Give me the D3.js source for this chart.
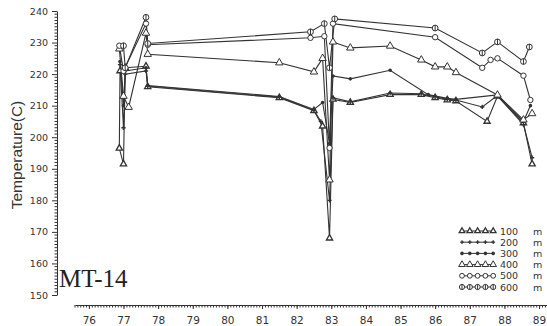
<!DOCTYPE html>
<html><head><meta charset="utf-8">
<script src="https://cdn.jsdelivr.net/npm/d3@7"></script>
<style>body{margin:0;background:#fff}svg{display:block}</style>
</head><body>
<script>
const seriesNames = ["100", "200", "300", "400", "500", "600"];
const yTicks = [150,160,170,180,190,200,210,220,230,240];
const xTicks = [76,77,78,79,80,81,82,83,84,85,86,87,88,89];

// [year, temperature C]
const s100 = [[76.9,221],[76.88,196.5],[77.0,191.5],[77.05,222],[77.65,222.5],[77.7,216],[81.5,212.5],[82.5,208.4],[82.75,203.5],[82.95,168],[83.05,212],[83.55,211],[84.7,213.5],[85.6,213.5],[86.0,212.5],[86.35,211.8],[86.6,211.5],[87.5,205],[87.8,213],[88.55,204.5],[88.8,191.5]];
const s200 = [[76.9,223],[77.0,203],[77.05,220],[77.65,221],[77.7,216.2],[81.5,212.7],[82.5,208.6],[82.7,205],[82.95,180],[83.05,212.5],[83.55,211.2],[84.7,214],[85.6,213.8],[86.0,212.8],[86.35,212],[86.6,211.8],[87.36,209.6],[87.8,213.2],[88.55,204],[88.8,193.5]];
const s300 = [[76.9,224],[77.0,210],[77.05,221],[77.65,222],[77.7,216.4],[81.5,212.9],[82.5,208.8],[82.75,211],[82.95,198],[83.05,219.4],[83.55,218.5],[84.7,221.2],[85.8,213.5],[86.35,212.3],[86.6,212],[87.8,213.4],[88.55,205],[88.75,210]];
const s400 = [[76.88,228],[77.0,213],[77.15,209.5],[77.65,233],[77.7,226.3],[81.5,223.6],[82.5,220.7],[82.75,225],[82.95,186.5],[83.05,230.2],[83.55,228.3],[84.7,228.9],[85.6,224.5],[86.0,222.3],[86.35,222.3],[86.6,220.5],[87.8,213.4],[88.55,205.5],[88.8,207.5]];
const s500 = [[76.88,229],[77.0,221],[77.65,236],[77.7,229.3],[82.4,231.5],[82.8,232],[82.95,196.6],[83.05,236],[86.0,231.7],[87.36,222],[87.6,224.5],[87.8,225],[88.55,219.5],[88.75,211.8]];
const s600 = [[77.0,229],[77.05,222],[77.65,238],[77.7,229.7],[82.4,233.4],[82.8,236],[82.95,222],[83.1,237.5],[86.0,234.6],[87.36,226.7],[87.8,230.2],[88.55,224],[88.72,228.6]];
const allSeries = [s100, s200, s300, s400, s500, s600];

const W = 547, H = 326, ink = "#333";
const svg = d3.select("body").append("svg").attr("width", W).attr("height", H);
const x = d3.scaleLinear().domain([75.6, 89.23]).range([75, 547]);
const y = d3.scaleLinear().domain([150, 240]).range([295, 11]);

// Y axis
const yAxis = d3.axisLeft(y).tickValues(yTicks).tickSize(5).tickSizeOuter(0).tickPadding(4);
const gy = svg.append("g").attr("transform", "translate(57,0)").call(yAxis);
gy.selectAll(".tick text").attr("font-family", "DejaVu Sans").attr("font-size", 9.5).attr("fill", ink);
gy.selectAll("line,path").attr("stroke", ink);
gy.append("g").selectAll("line").data(d3.range(150, 241, 1).filter(v => v % 10)).join("line")
  .attr("x1", -2.5).attr("x2", 0).attr("y1", d => y(d)).attr("y2", d => y(d)).attr("stroke", ink);

// X axis
const xAxis = d3.axisBottom(x).tickValues(xTicks).tickSize(4).tickSizeOuter(0).tickPadding(8);
const gx = svg.append("g").attr("transform", "translate(0,305)").call(xAxis);
gx.selectAll(".tick text").attr("font-family", "DejaVu Sans").attr("font-size", 10.5).attr("fill", ink);
gx.selectAll("line,path").attr("stroke", ink);
gx.append("g").selectAll("line").data(d3.range(75.6, 89.23, 1/12)).join("line")
  .attr("x1", d => x(d)).attr("x2", d => x(d)).attr("y1", 0).attr("y2", 2.5).attr("stroke", ink);

// Y label
svg.append("text").attr("transform", "translate(22,155) rotate(-90)").attr("text-anchor", "middle")
  .attr("font-family", "Liberation Sans").attr("font-size", 15.5).attr("fill", ink).text("Temperature(C)");

// MT-14
svg.append("text").attr("x", 59).attr("y", 287).attr("font-family", "Liberation Serif")
  .attr("font-size", 25).attr("fill", "#222").text("MT-14");

// markers
function marker(g, i, cx, cy, sc) {
  sc = sc || 1;
  const t = `translate(${cx},${cy})`;
  if (i === 0) g.append("path").attr("d", d3.symbol(d3.symbolTriangle, 17 * sc)()).attr("transform", t).attr("fill", "#fff").attr("stroke", ink).attr("stroke-width", 1.3);
  else if (i === 1) g.append("path").attr("d", d3.symbol(d3.symbolCross, 10 * sc)()).attr("transform", t).attr("fill", ink);
  else if (i === 2) g.append("circle").attr("cx", cx).attr("cy", cy).attr("r", 1.8).attr("fill", ink);
  else if (i === 3) g.append("path").attr("d", d3.symbol(d3.symbolTriangle, 24 * sc)()).attr("transform", t).attr("fill", "#fff").attr("stroke", ink).attr("stroke-width", 1);
  else if (i === 4) g.append("circle").attr("cx", cx).attr("cy", cy).attr("r", 2.7 * Math.sqrt(sc)).attr("fill", "#fff").attr("stroke", ink).attr("stroke-width", 1);
  else {
    const r = 2.9 * Math.sqrt(sc);
    g.append("circle").attr("cx", cx).attr("cy", cy).attr("r", r).attr("fill", "#fff").attr("stroke", ink).attr("stroke-width", 1);
    g.append("line").attr("x1", cx).attr("x2", cx).attr("y1", cy - r).attr("y2", cy + r).attr("stroke", ink);
  }
}

const line = d3.line().x(d => x(d[0])).y(d => y(d[1]));
const plot = svg.append("g");
allSeries.forEach((s, i) => {
  plot.append("path").datum(s).attr("d", line).attr("fill", "none").attr("stroke", ink).attr("stroke-width", 1.1);
});
allSeries.forEach((s, i) => {
  const g = plot.append("g");
  s.forEach(d => marker(g, i, x(d[0]), y(d[1])));
});

// legend
const lg = svg.append("g");
seriesNames.forEach((n, i) => {
  const ly = 231 + i * 11.2;
  lg.append("line").attr("x1", 462).attr("x2", 494).attr("y1", ly).attr("y2", ly).attr("stroke", ink);
  for (let k = 0; k < 5; k++) marker(lg, i, 462 + k * 7.8, ly, 0.8);
  lg.append("text").attr("x", 500).attr("y", ly + 3.5).attr("font-family", "DejaVu Sans").attr("font-size", 9.5).attr("fill", ink).text(n);
  lg.append("text").attr("x", 533).attr("y", ly + 3.5).attr("font-family", "DejaVu Sans").attr("font-size", 9.5).attr("fill", ink).text("m");
});
</script>
</body></html>
